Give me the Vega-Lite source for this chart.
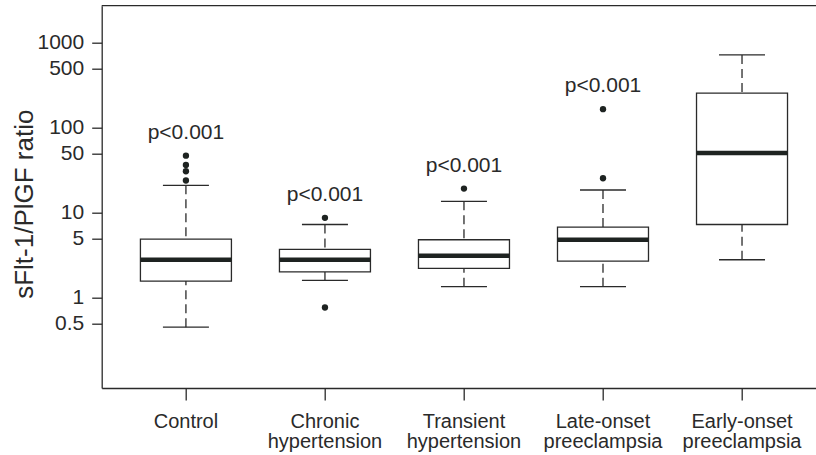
{
  "$schema": "https://vega.github.io/schema/vega-lite/v6.json",
  "width": 714.3,
  "height": 382.3,
  "autosize": {"type": "none"},
  "padding": {"left": 101.7, "top": 5.7, "right": 0, "bottom": 67},
  "background": "white",
  "datasets": {
    "stats": [
      {"group": "Control", "low": 0.451, "q1": 1.57, "median": 2.8, "q3": 4.89, "high": 21.0, "max": 46.9, "p": "p<0.001"},
      {"group": "Chronic hypertension", "low": 1.6, "q1": 2.01, "median": 2.8, "q3": 3.7, "high": 7.27, "max": 8.71, "p": "p<0.001"},
      {"group": "Transient hypertension", "low": 1.35, "q1": 2.22, "median": 3.12, "q3": 4.81, "high": 13.6, "max": 19.2, "p": "p<0.001"},
      {"group": "Late-onset preeclampsia", "low": 1.35, "q1": 2.7, "median": 4.81, "q3": 6.76, "high": 18.5, "max": 165, "p": "p<0.001"},
      {"group": "Early-onset preeclampsia", "low": 2.8, "q1": 7.27, "median": 50.4, "q3": 255, "high": 716, "max": 716, "p": null}
    ],
    "outliers": [
      {"group": "Control", "value": 46.9},
      {"group": "Control", "value": 36.5},
      {"group": "Control", "value": 30.7},
      {"group": "Control", "value": 23.9},
      {"group": "Chronic hypertension", "value": 8.71},
      {"group": "Chronic hypertension", "value": 0.768},
      {"group": "Transient hypertension", "value": 19.2},
      {"group": "Late-onset preeclampsia", "value": 165},
      {"group": "Late-onset preeclampsia", "value": 25.4}
    ],
    "frame": [{"top": 2716}]
  },
  "layer": [
    {
      "data": {"name": "stats"},
      "mark": {"type": "rule", "color": "#2a2a2a", "strokeWidth": 1.3, "strokeDash": [9, 5]},
      "encoding": {
        "x": {"field": "group", "type": "nominal", "title": null, "scale": {"type": "band", "domain": ["Control", "Chronic hypertension", "Transient hypertension", "Late-onset preeclampsia", "Early-onset preeclampsia"], "paddingInner": 0, "paddingOuter": 0.069, "align": 0.767}},
        "y": {"field": "high", "type": "quantitative", "title": "sFlt-1/PlGF ratio", "scale": {"type": "log", "domain": [0.0869, 2716], "nice": false, "zero": false}, "axis": {"values": [0.5, 1, 5, 10, 50, 100, 500, 1000], "format": "~g"}},
        "y2": {"field": "q3"}
      }
    },
    {
      "data": {"name": "stats"},
      "mark": {"type": "rule", "color": "#2a2a2a", "strokeWidth": 1.3, "strokeDash": [9, 5]},
      "encoding": {
        "x": {"field": "group", "type": "nominal", "title": null},
        "y": {"field": "low", "type": "quantitative", "title": "sFlt-1/PlGF ratio"},
        "y2": {"field": "q1"}
      }
    },
    {
      "data": {"name": "stats"},
      "mark": {"type": "bar", "width": 91, "fill": "white", "stroke": "#2a2a2a", "strokeWidth": 1.3},
      "encoding": {
        "x": {"field": "group", "type": "nominal", "title": null},
        "y": {"field": "q1", "type": "quantitative", "title": "sFlt-1/PlGF ratio"},
        "y2": {"field": "q3"}
      }
    },
    {
      "data": {"name": "stats"},
      "mark": {"type": "tick", "size": 91, "thickness": 4.5, "color": "#1e2321", "opacity": 1},
      "encoding": {
        "x": {"field": "group", "type": "nominal", "title": null},
        "y": {"field": "median", "type": "quantitative", "title": "sFlt-1/PlGF ratio"}
      }
    },
    {
      "data": {"name": "stats"},
      "mark": {"type": "tick", "size": 46, "thickness": 1.3, "color": "#2a2a2a", "opacity": 1},
      "encoding": {
        "x": {"field": "group", "type": "nominal", "title": null},
        "y": {"field": "high", "type": "quantitative", "title": "sFlt-1/PlGF ratio"}
      }
    },
    {
      "data": {"name": "stats"},
      "mark": {"type": "tick", "size": 46, "thickness": 1.3, "color": "#2a2a2a", "opacity": 1},
      "encoding": {
        "x": {"field": "group", "type": "nominal", "title": null},
        "y": {"field": "low", "type": "quantitative", "title": "sFlt-1/PlGF ratio"}
      }
    },
    {
      "data": {"name": "outliers"},
      "mark": {"type": "point", "filled": true, "size": 40, "color": "#1e2321", "opacity": 1},
      "encoding": {
        "x": {"field": "group", "type": "nominal", "title": null},
        "y": {"field": "value", "type": "quantitative", "title": "sFlt-1/PlGF ratio"}
      }
    },
    {
      "data": {"name": "stats"},
      "transform": [{"filter": "datum.p != null"}],
      "mark": {"type": "text", "fontSize": 21, "font": "Liberation Sans", "color": "#2a2a2a", "baseline": "middle", "align": "center", "dy": -23},
      "encoding": {
        "x": {"field": "group", "type": "nominal", "title": null},
        "y": {"field": "max", "type": "quantitative", "title": "sFlt-1/PlGF ratio"},
        "text": {"field": "p"}
      }
    },
    {
      "data": {"name": "frame"},
      "mark": {"type": "rule", "color": "#2a2a2a", "strokeWidth": 1.3},
      "encoding": {
        "y": {"field": "top", "type": "quantitative", "title": "sFlt-1/PlGF ratio"}
      }
    }
  ],
  "config": {
    "view": {"stroke": null},
    "font": "Liberation Sans",
    "axisX": {
      "labelExpr": "split(datum.value, ' ')",
      "labelAngle": 0,
      "labelFontSize": 20,
      "labelColor": "#2a2a2a",
      "labelPadding": 11,
      "labelLineHeight": 20,
      "labelBaseline": "top",
      "labelFont": "Liberation Sans",
      "tickSize": 12,
      "tickColor": "#2a2a2a",
      "tickWidth": 1.3,
      "domainColor": "#2a2a2a",
      "domainWidth": 1.3,
      "grid": false
    },
    "axisY": {
      "labelFontSize": 21,
      "labelColor": "#2a2a2a",
      "labelPadding": 8,
      "labelFont": "Liberation Sans",
      "tickSize": 10,
      "tickColor": "#2a2a2a",
      "tickWidth": 1.3,
      "domainColor": "#2a2a2a",
      "domainWidth": 1.3,
      "grid": false,
      "titleFontSize": 26,
      "titleFontWeight": "normal",
      "titleColor": "#2a2a2a",
      "titleFont": "Liberation Sans",
      "titleAngle": -90,
      "titleBaseline": "middle",
      "titleAlign": "center",
      "titleX": -77,
      "titleY": 198
    }
  }
}
